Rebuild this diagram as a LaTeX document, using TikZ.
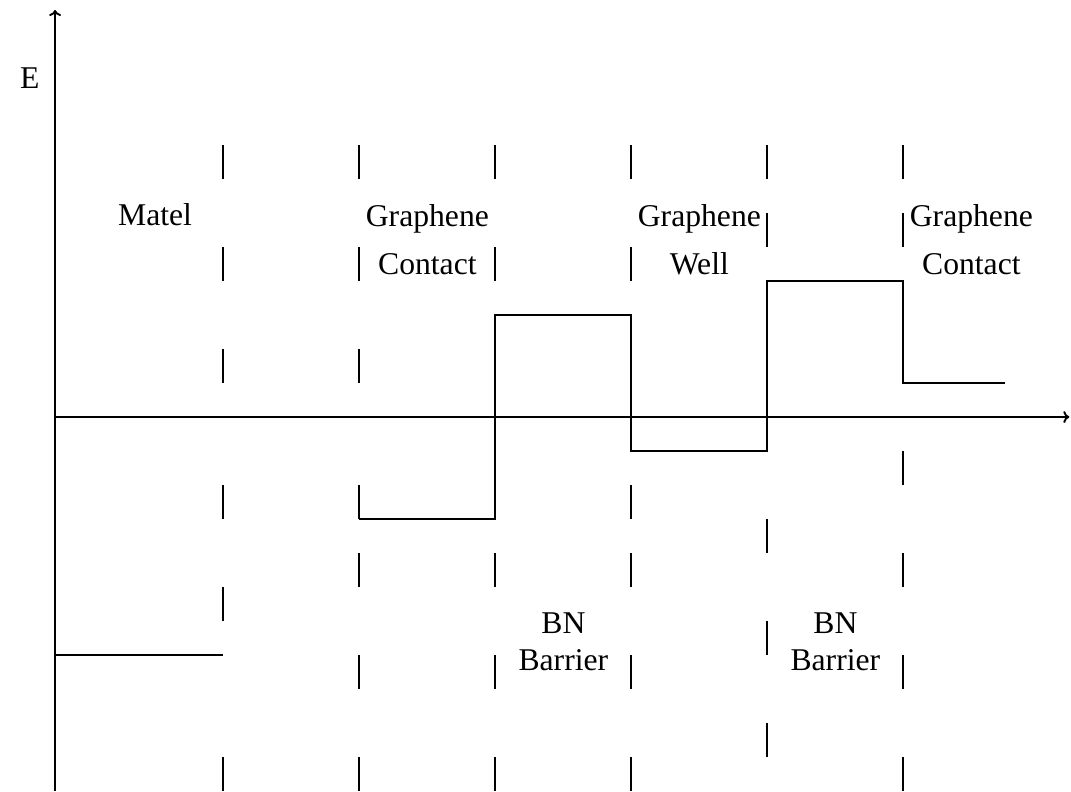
\documentclass[tikz,border=0pt]{standalone}
\usepackage{fontspec}
\setmainfont{Liberation Serif}
\usetikzlibrary{arrows.meta}

\begin{document}
\begin{tikzpicture}[
  every node/.style={font=\fontsize{26.5}{40}\selectfont, inner sep=0pt},
  axis/.style={-{To[length=5pt,width=10pt]}, line width=1.6pt},
  level/.style={line width=1.6pt},
  cut/.style={line width=1.6pt},
  lbl/.style={align=center},
  tight/.style={align=center, font=\fontsize{26.5}{31}\selectfont}
]
\useasboundingbox (0,0) rectangle (31.5,23.265);

% axes
\coordinate (o) at (1.62,0);
\coordinate (ytop) at (1.62,22.97);
\coordinate (xl) at (1.62,11);
\coordinate (xr) at (31.45,11);
\draw[axis] (o) -- (ytop);
\draw[axis] (xl) -- (xr);

% band edges
\draw[level] (1.62,4) -- (6.57,4);
\draw[level] (10.57,8) -- (14.57,8) -- (14.57,14) -- (18.57,14) -- (18.57,10)
  -- (22.57,10) -- (22.57,15) -- (26.57,15) -- (26.57,12) -- (29.56,12);

% layer boundaries, one dash per entry
\foreach \x/\ys in {6.57/{18,15,12,8,5,0},
                    10.57/{18,15,12,8,6,3,0},
                    14.57/{18,15,6,3,0},
                    18.57/{18,15,8,6,3,0},
                    22.57/{18,16,7,4,1},
                    26.57/{18,16,9,6,3,0}}
  \foreach \y in \ys
    \draw[cut] (\x,\y) -- ++(0,1);

% labels
\node (e) at (0.88,20.97) {E};
\node (metal) at (4.56,16.94) {Matel};
\node[lbl] (contactL) at (12.57,16.22) {Graphene\\Contact};
\node[lbl] (well) at (20.57,16.22) {Graphene\\Well};
\node[lbl] (contactR) at (28.57,16.22) {Graphene\\Contact};
\node[tight] (barrierL) at (16.57,4.4) {BN\\Barrier};
\node[tight] (barrierR) at (24.57,4.4) {BN\\Barrier};
\end{tikzpicture}
\end{document}
